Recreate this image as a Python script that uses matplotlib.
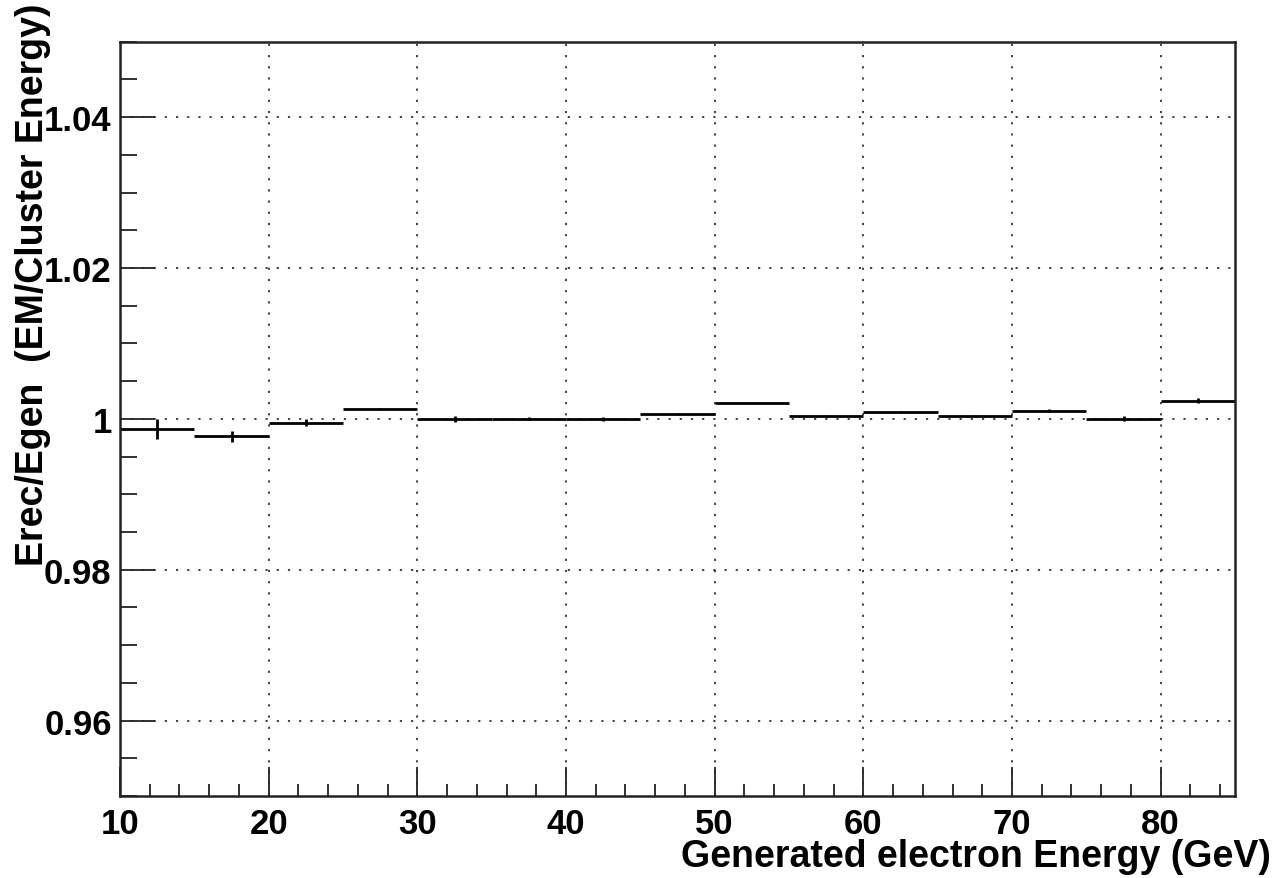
import numpy as np
import matplotlib
matplotlib.use("Agg")
from matplotlib import pyplot as plt
from matplotlib.ticker import MultipleLocator

# bin edges / contents
bin_low = [10, 15, 20, 25, 30, 35, 40, 45, 50, 55, 60, 65, 70, 75, 80]
bin_width = 5
ratio = [0.99868, 0.99767, 0.99951, 1.00136, 1.00000, 1.00002, 0.99998, 1.00061,
         1.00215, 1.00035, 1.00088, 1.00035, 1.00110, 1.00004, 1.00240]
ratio_err = [0.0013, 0.0007, 0.0005, 0.0001, 0.0004, 0.0002, 0.0002, 0.0001,
             0.0001, 0.0001, 0.0001, 0.0001, 0.0002, 0.0003, 0.0003]

x_ticks = [10, 20, 30, 40, 50, 60, 70, 80]
y_ticks = [0.96, 0.98, 1.00, 1.02, 1.04]
y_tick_labels = ["0.96", "0.98", "1", "1.02", "1.04"]

plt.rcParams['font.family'] = ['Liberation Sans', 'DejaVu Sans']
plt.rcParams['font.weight'] = 'bold'

fig = plt.figure(figsize=(12.74, 8.79), dpi=100)
ax = fig.add_axes([120/1274, 1 - 797/879, (1235 - 120)/1274, (797 - 42.7)/879])

centers = np.array(bin_low) + bin_width/2
ax.errorbar(centers, ratio, xerr=bin_width/2, yerr=ratio_err, fmt='none',
            ecolor='black', elinewidth=2.0, capsize=0)

ax.set_xlim(10, 85)
ax.set_ylim(0.95, 1.05)
ax.set_xticks(x_ticks)
ax.set_xticklabels([str(t) for t in x_ticks])
ax.set_yticks(y_ticks)
ax.set_yticklabels(y_tick_labels)
ax.xaxis.set_minor_locator(MultipleLocator(2))
ax.yaxis.set_minor_locator(MultipleLocator(0.005))

ax.tick_params(which='both', direction='in', top=False, right=False,
               width=1.3, color='#222222', labelsize=25)
ax.tick_params(axis='x', which='major', length=21, pad=8)
ax.tick_params(axis='x', which='minor', length=9)
ax.tick_params(axis='y', which='major', length=25, pad=6)
ax.tick_params(axis='y', which='minor', length=12)

ax.grid(True, which='major', color='#333333', lw=1.3, linestyle=(0, (1.2, 5)))
ax.set_axisbelow(True)
for s in ax.spines.values():
    s.set_linewidth(1.8)
    s.set_color('#222222')

fig.text(1271/1274, 1 - 857/879, "Generated electron Energy (GeV)",
         ha='right', va='center', fontsize=27, fontweight='bold')
fig.text(33/1274, 1 - 4/879, "Erec/Egen  (EM/Cluster Energy)",
         ha='center', va='top', rotation=90, fontsize=27, fontweight='bold')

fig.savefig("out.png", dpi=100)
